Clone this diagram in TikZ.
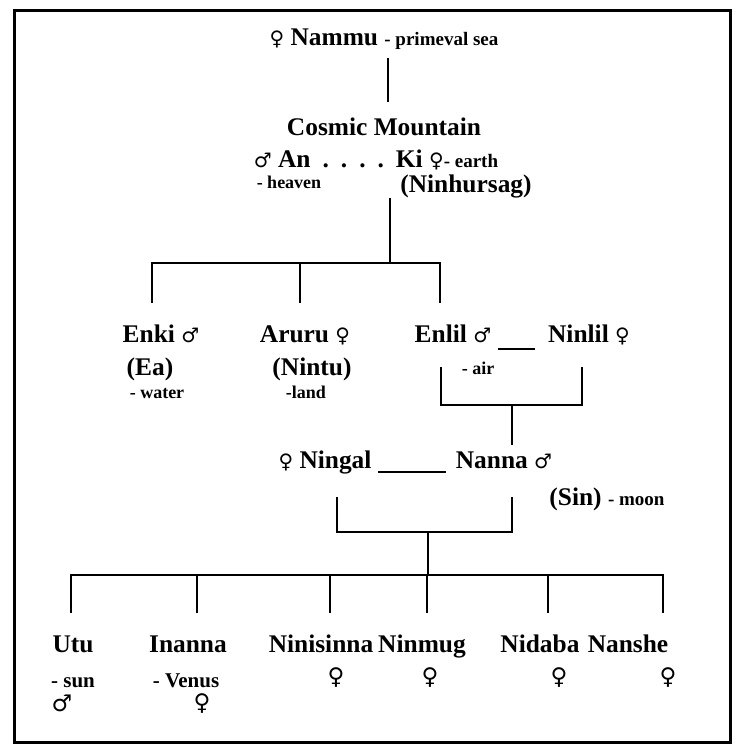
\documentclass[tikz,border=0pt]{standalone}
\usepackage{fontspec}
\setmainfont{Liberation Serif}
\newfontfamily\symfont{DejaVu Sans}
\usepackage{tikz}
\usetikzlibrary{positioning}

\newcommand{\fem}{{\symfont\fontsize{10}{10}\selectfont ♀}}
\newcommand{\mal}{{\symfont\fontsize{10}{10}\selectfont ♂}}
\newcommand{\sm}{\fontsize{9.5}{10}\selectfont}
\newcommand{\dotgap}{\hspace{6pt}}

\tikzset{
  god/.style={inner sep=0pt, anchor=base, font=\fontsize{12.7}{15}\selectfont\bfseries},
  note/.style={inner sep=0pt, anchor=base, font=\fontsize{9}{10}\selectfont\bfseries},
  bignote/.style={note, font=\fontsize{10.5}{11}\selectfont\bfseries},
  sign/.style={inner sep=0pt, font=\symfont\fontsize{11.5}{12}\selectfont},
  tree/.style={line width=1.2pt},
  frame/.style={line width=1.5pt}
}

\begin{document}
\begin{tikzpicture}[x=0.5pt, y=-0.5pt]
\useasboundingbox (0,0) rectangle (736,745);
\draw[frame] (14,10) rectangle (730,742);

% first generations
\node[god] (nammu) at (384,45) {\fem\ Nammu {\sm - primeval sea}};
\node[god] (cosmic) at (384,135) {Cosmic Mountain};
\node[god] (anki) at (376,167) {\mal\ An\dotgap.\dotgap.\dotgap.\dotgap.\dotgap Ki \fem{\sm- earth}};
\node[note] (heaven) at (289,188) {- heaven};
\node[god] (ninhursag) at (466,192) {(Ninhursag)};

\node[god] (enki) at (161,342) {Enki \mal};
\node[god] (ea) at (150,375) {(Ea)};
\node[note] (water) at (157,398) {- water};
\node[god] (aruru) at (305,342) {Aruru \fem};
\node[god] (nintu) at (312,375) {(Nintu)};
\node[note] (land) at (306,398) {-land};
\node[god] (enlil) at (453,342) {Enlil \mal};
\node[god] (ninlil) at (589,342) {Ninlil \fem};
\node[note] (air) at (478,374) {- air};

\node[god] (ningal) at (325,468) {\fem\ Ningal};
\node[god] (nanna) at (504,468) {Nanna \mal};
\node[god] (sin) at (607,505) {(Sin) {\sm - moon}};

% children of Nanna
\node[god] (utu) at (73,652) {Utu};
\node[god] (inanna) at (188,652) {Inanna};
\node[god] (ninisinna) at (321,652) {Ninisinna};
\node[god] (ninmug) at (422,652) {Ninmug};
\node[god] (nidaba) at (540,652) {Nidaba};
\node[god] (nanshe) at (628,652) {Nanshe};
\node[bignote] (sun) at (73,687) {- sun};
\node[bignote] (venus) at (186,687) {- Venus};
\node[sign] (utusign) at (62,703) {♂};
\node[sign] (inannasign) at (202,704) {♀};
\node[sign] (ninisinnasign) at (336,678) {♀};
\node[sign] (ninmugsign) at (430,678) {♀};
\node[sign] (nidabasign) at (559,678) {♀};
\node[sign] (nanshesign) at (668,678) {♀};

% lines
\draw[tree] ([xshift=2pt, yshift=-6.5pt]nammu.base) -- ([xshift=2pt, yshift=7.5pt]cosmic.north);

\coordinate (anbar) at (390,263);
\coordinate (hursagleg) at (390,198);
\coordinate (enkitop) at (152,303);
\coordinate (arurutop) at (300,303);
\coordinate (enliltop) at (440,303);
\draw[tree] (hursagleg) -- (anbar);
\draw[tree] (enkitop) |- (anbar) -| (enliltop);
\draw[tree] (arurutop) -- (arurutop |- anbar);

\draw[line width=1pt] ([xshift=3pt, yshift=-3.5pt]enlil.base east) -- ([xshift=-6.5pt, yshift=-3.5pt]ninlil.base west);
\coordinate (enlilleg) at (441,367);
\coordinate (ninlilleg) at (582,367);
\coordinate (nannatop) at (512,445);
\draw[tree] (enlilleg) -- ++(0,38) -| (ninlilleg);
\draw[tree] (nannatop) -- ++(0,-40);

\draw[line width=1pt] ([xshift=3pt, yshift=-2pt]ningal.base east) -- ([xshift=-4.5pt, yshift=-2pt]nanna.base west);
\coordinate (ningalleg) at (337,497);
\coordinate (nannaleg) at (512,497);
\coordinate (kidbar) at (428,575);
\draw[tree] (ningalleg) -- ++(0,35) -| (nannaleg);
\draw[tree] (kidbar) -- ++(0,-43);

\coordinate (ututop) at (71,613);
\coordinate (inannatop) at (197,613);
\coordinate (ninisinnatop) at (330,613);
\coordinate (ninmugtop) at (427,613);
\coordinate (nidabatop) at (548,613);
\coordinate (nanshetop) at (663,613);
\draw[tree] (ututop) |- (kidbar) -| (nanshetop);
\foreach \kid in {inannatop, ninisinnatop, ninmugtop, nidabatop}
  \draw[tree] (\kid) -- (\kid |- kidbar);
\end{tikzpicture}
\end{document}
